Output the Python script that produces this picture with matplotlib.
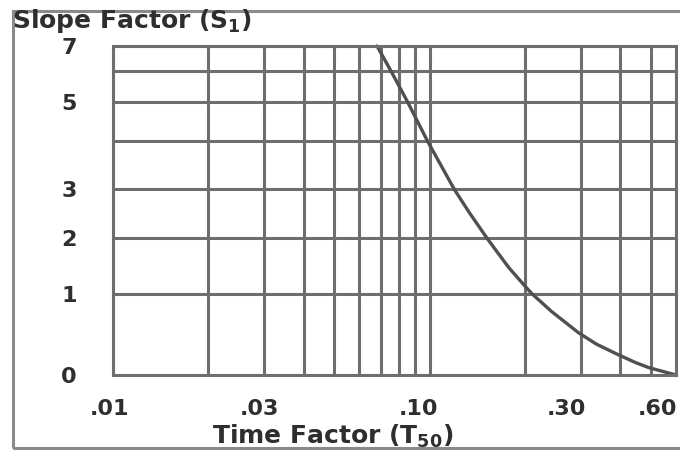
import numpy as np
import matplotlib
matplotlib.use('Agg')
import matplotlib.pyplot as plt
import matplotlib.transforms as mtransforms
from matplotlib.patches import Rectangle

plt.rcParams['font.family'] = ['DejaVu Sans']
plt.rcParams['mathtext.fontset'] = 'custom'
plt.rcParams['mathtext.rm'] = 'DejaVu Sans:bold'
plt.rcParams['mathtext.bf'] = 'DejaVu Sans:bold'
plt.rcParams['mathtext.it'] = 'DejaVu Sans:bold'

# curve
t50 = [0.0682, 0.0755, 0.0853, 0.0986, 0.1197, 0.1334, 0.152, 0.178, 0.1985, 0.2104,
       0.243, 0.2953, 0.3363, 0.394, 0.449, 0.493, 0.60]
s1 = [7.0, 6.0, 5.0, 4.0, 3.0, 2.53, 2.0, 1.47, 1.16, 1.0,
      0.78, 0.52, 0.38, 0.25, 0.15, 0.09, 0.0]

# axis ticks / grid
x_grid = [0.01, 0.02, 0.03, 0.04, 0.05, 0.06, 0.07, 0.08, 0.09,
          0.1, 0.2, 0.3, 0.4, 0.5, 0.6]
x_labels = {0.01: '.01', 0.03: '.03', 0.1: '.10', 0.3: '.30', 0.6: '.60'}
y_grid = [0, 1, 2, 3, 4, 5, 6, 7]
y_labels = {0: '0', 1: '1', 2: '2', 3: '3', 5: '5', 7: '7'}

# the printed y axis is not linear: where each gridline sits (fraction of height)
y_scale_frac = [0, 0.247, 0.415, 0.564, 0.71, 0.829, 0.924, 1.0]

def fwd(v):
    return np.interp(v, y_grid, y_scale_frac)

def inv(p):
    return np.interp(p, y_scale_frac, y_grid)

grid_col = '#6e6e6e'
text_col = '#2e2e2e'

fig = plt.figure(figsize=(6.8, 4.5), dpi=100)
ax = fig.add_axes([113 / 680, 75 / 450, 563 / 680, 329 / 450])

ax.set_xscale('log')
ax.set_yscale('function', functions=(fwd, inv))
ax.set_xlim(0.01, 0.6)
ax.set_ylim(0, 7)

ax.set_xticks(x_grid, labels=[x_labels.get(v, '') for v in x_grid])
ax.set_yticks(y_grid, labels=[y_labels.get(v, '') for v in y_grid])
ax.minorticks_off()
ax.tick_params(length=0, labelsize=16, labelcolor=text_col)
ax.tick_params(axis='x', pad=17)
ax.tick_params(axis='y', pad=26)
for lab in ax.get_xticklabels() + ax.get_yticklabels():
    lab.set_fontweight('bold')

# x labels in the print sit a bit left of their gridlines
x_shift = {'.01': -3, '.03': -5, '.10': -11, '.30': -14, '.60': -19}
for lab in ax.get_xticklabels():
    dx = x_shift.get(lab.get_text(), 0)
    lab.set_transform(lab.get_transform() + mtransforms.ScaledTranslation(dx / 100, 0, fig.dpi_scale_trans))

ax.grid(True, color=grid_col, linewidth=2.2)
ax.set_axisbelow(True)
for sp in ax.spines.values():
    sp.set_color(grid_col)
    sp.set_linewidth(2.2)

ax.plot(t50, s1, color='#505050', linewidth=2.4, solid_capstyle='round',
        solid_joinstyle='round', clip_on=False)

# outer frame
fig.patches.append(Rectangle((13 / 680, 2 / 450), 0.99, 437 / 450, transform=fig.transFigure,
                             fill=False, edgecolor='#8a8a8a', linewidth=2.2))

fig.text(12 / 680, 1 - 21 / 450, r'Slope Factor ($\mathrm{S}_1$)', ha='left', va='center',
         fontsize=18, fontweight='bold', color=text_col)
fig.text(333 / 680, 14 / 450, r'Time Factor ($\mathrm{T}_{50}$)', ha='center', va='center',
         fontsize=18, fontweight='bold', color=text_col)

fig.savefig('out.png', dpi=100)
